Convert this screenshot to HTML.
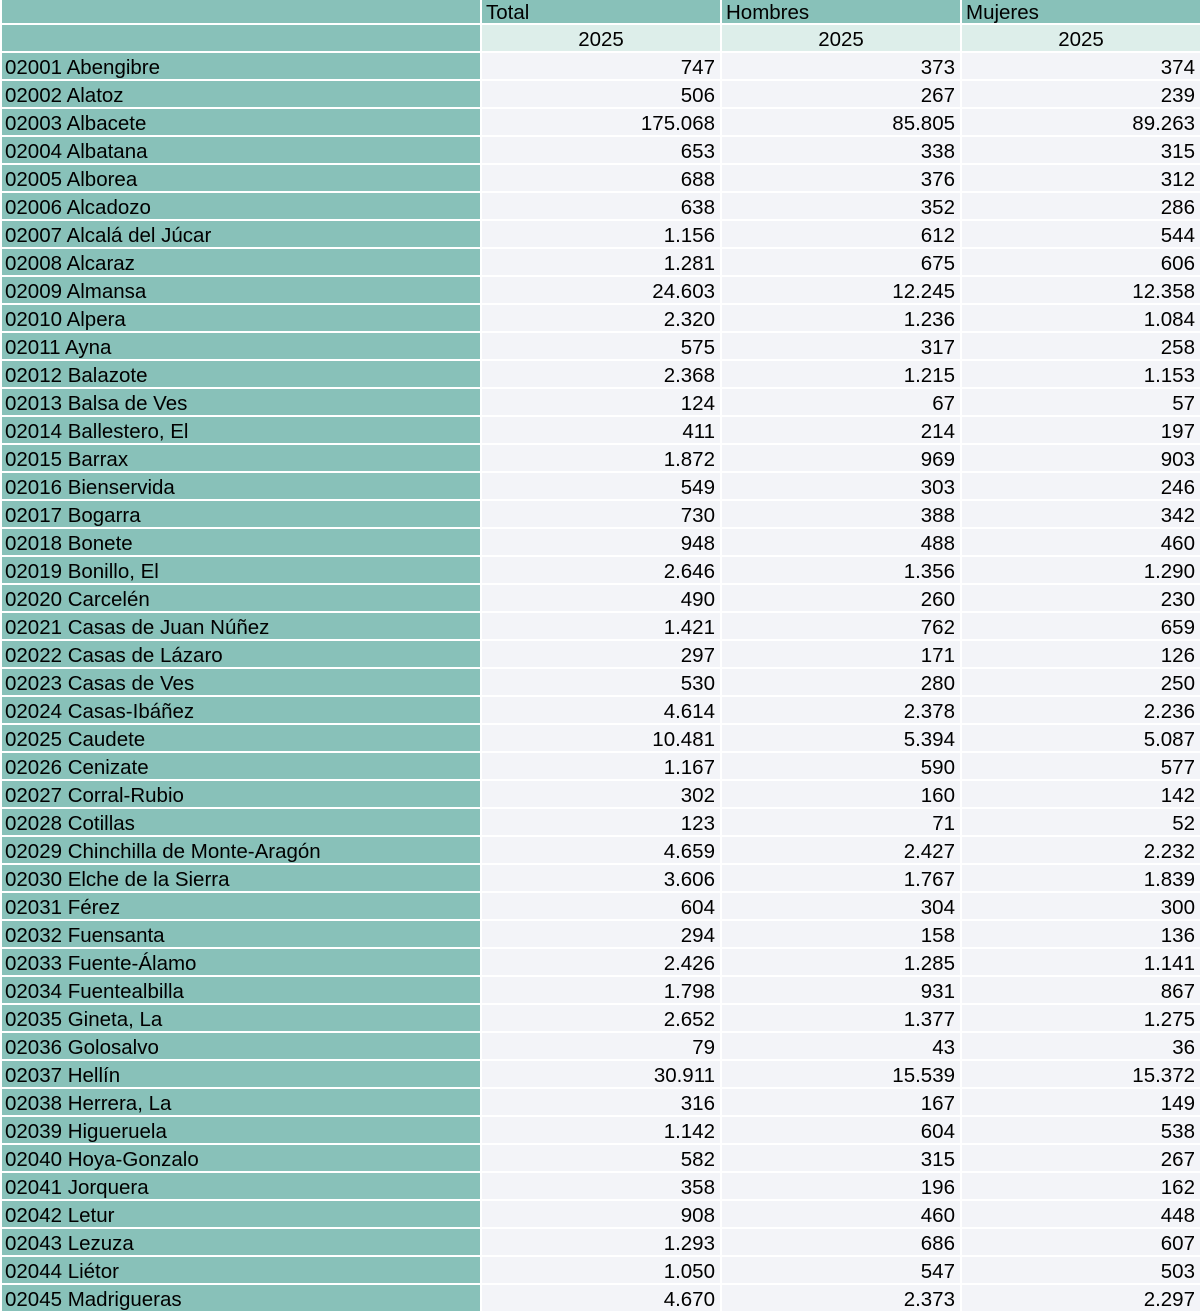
<!DOCTYPE html>
<html><head><meta charset="utf-8"><style>
html,body{margin:0;padding:0;background:#fff;}
.g{display:grid;grid-template-columns:478px 238px 238px 238px;grid-template-rows:23px 26px repeat(45,26px);gap:2px;padding-left:2px;width:1200px;height:1313px;box-sizing:border-box;font-family:"Liberation Sans",Arial,sans-serif;font-size:20.5px;color:#000;}
.g div{line-height:30px;white-space:nowrap;overflow:hidden;}
.h{background:#88c1b9;padding-left:4px;line-height:26px!important;}
.y{background:#ddeeea;text-align:center;}
.l{background:#88c1b9;padding-left:3px;}
.n{background:#f3f4f8;text-align:right;padding-right:5px;}
.e{background:#88c1b9;}
</style></head><body><div class="g">
<div class="h"></div><div class="h">Total</div><div class="h">Hombres</div><div class="h">Mujeres</div>
<div class="e"></div><div class="y">2025</div><div class="y">2025</div><div class="y">2025</div>
<div class="l">02001 Abengibre</div><div class="n">747</div><div class="n">373</div><div class="n">374</div>
<div class="l">02002 Alatoz</div><div class="n">506</div><div class="n">267</div><div class="n">239</div>
<div class="l">02003 Albacete</div><div class="n">175.068</div><div class="n">85.805</div><div class="n">89.263</div>
<div class="l">02004 Albatana</div><div class="n">653</div><div class="n">338</div><div class="n">315</div>
<div class="l">02005 Alborea</div><div class="n">688</div><div class="n">376</div><div class="n">312</div>
<div class="l">02006 Alcadozo</div><div class="n">638</div><div class="n">352</div><div class="n">286</div>
<div class="l">02007 Alcalá del Júcar</div><div class="n">1.156</div><div class="n">612</div><div class="n">544</div>
<div class="l">02008 Alcaraz</div><div class="n">1.281</div><div class="n">675</div><div class="n">606</div>
<div class="l">02009 Almansa</div><div class="n">24.603</div><div class="n">12.245</div><div class="n">12.358</div>
<div class="l">02010 Alpera</div><div class="n">2.320</div><div class="n">1.236</div><div class="n">1.084</div>
<div class="l">02011 Ayna</div><div class="n">575</div><div class="n">317</div><div class="n">258</div>
<div class="l">02012 Balazote</div><div class="n">2.368</div><div class="n">1.215</div><div class="n">1.153</div>
<div class="l">02013 Balsa de Ves</div><div class="n">124</div><div class="n">67</div><div class="n">57</div>
<div class="l">02014 Ballestero, El</div><div class="n">411</div><div class="n">214</div><div class="n">197</div>
<div class="l">02015 Barrax</div><div class="n">1.872</div><div class="n">969</div><div class="n">903</div>
<div class="l">02016 Bienservida</div><div class="n">549</div><div class="n">303</div><div class="n">246</div>
<div class="l">02017 Bogarra</div><div class="n">730</div><div class="n">388</div><div class="n">342</div>
<div class="l">02018 Bonete</div><div class="n">948</div><div class="n">488</div><div class="n">460</div>
<div class="l">02019 Bonillo, El</div><div class="n">2.646</div><div class="n">1.356</div><div class="n">1.290</div>
<div class="l">02020 Carcelén</div><div class="n">490</div><div class="n">260</div><div class="n">230</div>
<div class="l">02021 Casas de Juan Núñez</div><div class="n">1.421</div><div class="n">762</div><div class="n">659</div>
<div class="l">02022 Casas de Lázaro</div><div class="n">297</div><div class="n">171</div><div class="n">126</div>
<div class="l">02023 Casas de Ves</div><div class="n">530</div><div class="n">280</div><div class="n">250</div>
<div class="l">02024 Casas-Ibáñez</div><div class="n">4.614</div><div class="n">2.378</div><div class="n">2.236</div>
<div class="l">02025 Caudete</div><div class="n">10.481</div><div class="n">5.394</div><div class="n">5.087</div>
<div class="l">02026 Cenizate</div><div class="n">1.167</div><div class="n">590</div><div class="n">577</div>
<div class="l">02027 Corral-Rubio</div><div class="n">302</div><div class="n">160</div><div class="n">142</div>
<div class="l">02028 Cotillas</div><div class="n">123</div><div class="n">71</div><div class="n">52</div>
<div class="l">02029 Chinchilla de Monte-Aragón</div><div class="n">4.659</div><div class="n">2.427</div><div class="n">2.232</div>
<div class="l">02030 Elche de la Sierra</div><div class="n">3.606</div><div class="n">1.767</div><div class="n">1.839</div>
<div class="l">02031 Férez</div><div class="n">604</div><div class="n">304</div><div class="n">300</div>
<div class="l">02032 Fuensanta</div><div class="n">294</div><div class="n">158</div><div class="n">136</div>
<div class="l">02033 Fuente-Álamo</div><div class="n">2.426</div><div class="n">1.285</div><div class="n">1.141</div>
<div class="l">02034 Fuentealbilla</div><div class="n">1.798</div><div class="n">931</div><div class="n">867</div>
<div class="l">02035 Gineta, La</div><div class="n">2.652</div><div class="n">1.377</div><div class="n">1.275</div>
<div class="l">02036 Golosalvo</div><div class="n">79</div><div class="n">43</div><div class="n">36</div>
<div class="l">02037 Hellín</div><div class="n">30.911</div><div class="n">15.539</div><div class="n">15.372</div>
<div class="l">02038 Herrera, La</div><div class="n">316</div><div class="n">167</div><div class="n">149</div>
<div class="l">02039 Higueruela</div><div class="n">1.142</div><div class="n">604</div><div class="n">538</div>
<div class="l">02040 Hoya-Gonzalo</div><div class="n">582</div><div class="n">315</div><div class="n">267</div>
<div class="l">02041 Jorquera</div><div class="n">358</div><div class="n">196</div><div class="n">162</div>
<div class="l">02042 Letur</div><div class="n">908</div><div class="n">460</div><div class="n">448</div>
<div class="l">02043 Lezuza</div><div class="n">1.293</div><div class="n">686</div><div class="n">607</div>
<div class="l">02044 Liétor</div><div class="n">1.050</div><div class="n">547</div><div class="n">503</div>
<div class="l">02045 Madrigueras</div><div class="n">4.670</div><div class="n">2.373</div><div class="n">2.297</div>
</div></body></html>
